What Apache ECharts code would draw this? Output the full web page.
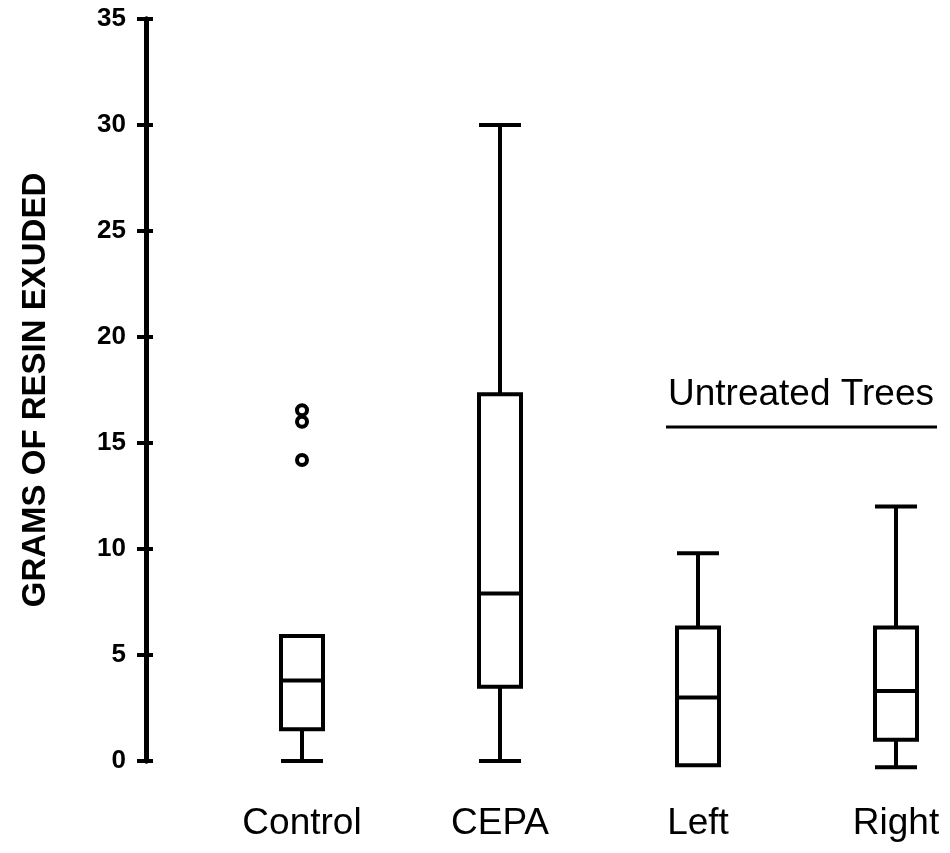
<!DOCTYPE html>
<html lang="en">
<head>
  <meta charset="UTF-8">
  <title>Grams of resin exuded</title>
  <style>
    html, body { margin: 0; padding: 0; width: 100%; height: 100%; background: #fff; }
    #chart { width: 950px; height: 853px; }
  </style>
  <script src="https://cdn.jsdelivr.net/npm/echarts@6/dist/echarts.min.js"></script>
</head>
<body>
  <div id="chart"></div>
  <script>
    // groups along the bottom
    const categories = ['Control', 'CEPA', 'Left', 'Right'];
    // [min, Q1, median, Q3, max]
    const boxValues = [
      [0, 1.5, 3.8, 5.9, 5.9],
      [0, 3.5, 7.9, 17.3, 30],
      [-0.2, -0.2, 3.0, 6.3, 9.8],
      [-0.3, 1.0, 3.3, 6.3, 12]
    ];
    // outliers: [category index, value]
    const outliers = [[0, 14.2], [0, 16.0], [0, 16.55]];
    const yTicks = { min: 0, max: 35, interval: 5 };

    const myChart = echarts.init(document.getElementById('chart'));

    const axisLineStyle = { color: '#000', width: 5 };

    const option = {
      backgroundColor: '#fff',
      animation: false,
      // band of 198px per group, last band runs past the right edge
      grid: { left: 203, width: 792, top: 19, bottom: 92, outerBoundsMode: 'none' },
      xAxis: {
        type: 'category',
        data: categories,
        axisLine: { show: false },
        axisTick: { show: false },
        axisLabel: {
          margin: 44,
          color: '#000',
          fontSize: 37,
          fontFamily: 'Liberation Sans, Arial, sans-serif'
        },
        splitLine: { show: false }
      },
      yAxis: [
        {
          type: 'value',
          position: 'left',
          offset: 57,
          min: yTicks.min,
          max: yTicks.max,
          interval: yTicks.interval,
          name: 'GRAMS OF RESIN EXUDED',
          nameLocation: 'middle',
          nameRotate: 90,
          nameGap: 94,
          nameTextStyle: {
            color: '#000',
            fontSize: 33,
            fontWeight: 'bold',
            fontFamily: 'Liberation Sans, Arial, sans-serif'
          },
          axisLine: { show: true, lineStyle: axisLineStyle },
          axisTick: { show: true, inside: false, length: 9, lineStyle: { color: '#000', width: 4 } },
          axisLabel: {
            margin: 20,
            color: '#000',
            fontSize: 26,
            fontWeight: 'bold',
            fontFamily: 'Liberation Sans, Arial, sans-serif'
          },
          splitLine: { show: false }
        },
        {
          // inner half of the crossing ticks
          type: 'value',
          position: 'left',
          offset: 57,
          min: yTicks.min,
          max: yTicks.max,
          interval: yTicks.interval,
          axisLine: { show: true, lineStyle: axisLineStyle },
          axisTick: { show: true, inside: true, length: 7, lineStyle: { color: '#000', width: 4 } },
          axisLabel: { show: false },
          splitLine: { show: false }
        }
      ],
      graphic: [
        {
          type: 'text',
          left: 668,
          top: 376,
          style: {
            text: 'Untreated Trees',
            fill: '#000',
            font: '37px Liberation Sans, Arial, sans-serif'
          }
        },
        {
          type: 'line',
          shape: { x1: 666, y1: 427, x2: 937, y2: 427 },
          style: { stroke: '#000', lineWidth: 3 }
        }
      ],
      series: [
        {
          type: 'boxplot',
          data: boxValues,
          boxWidth: [42, 42],
          itemStyle: { color: '#fff', borderColor: '#000', borderWidth: 4 },
          emphasis: { disabled: true }
        },
        {
          type: 'scatter',
          data: outliers,
          symbol: 'circle',
          symbolSize: 10,
          itemStyle: { color: '#fff', borderColor: '#000', borderWidth: 4, opacity: 1 },
          emphasis: { disabled: true },
          z: 3
        }
      ]
    };

    myChart.setOption(option);
  </script>
</body>
</html>
